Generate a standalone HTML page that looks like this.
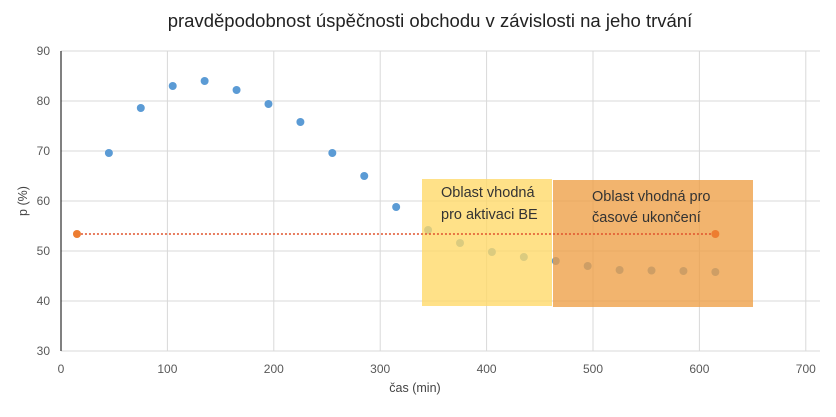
<!DOCTYPE html>
<html><head><meta charset="utf-8"><style>
body{margin:0;background:#fff;font-family:"Liberation Sans",sans-serif}
svg text{font-family:"Liberation Sans",sans-serif}
</style></head><body>
<svg width="836" height="412" id="c">
<text x="430" y="27" text-anchor="middle" font-size="18.5" fill="#222">pravděpodobnost úspěčnosti obchodu v závislosti na jeho trvání</text>
<g id="grid"></g><g id="pts"></g><g id="boxes"></g><g id="line"></g>
<text x="415" y="392" text-anchor="middle" font-size="12.5" fill="#444">čas (min)</text>
<text transform="translate(27,201) rotate(-90)" text-anchor="middle" font-size="12.5" fill="#444">p (%)</text>
</svg>
<script>
const xTicks=[0,100,200,300,400,500,600,700];
const yTicks=[30,40,50,60,70,80,90];
const times=[45,75,105,135,165,195,225,255,285,315,345,375,405,435,465,495,525,555,585,615];
const probs=[69.6,78.6,83,84,82.2,79.4,75.8,69.6,65,58.8,54.2,51.6,49.8,48.8,48,47,46.2,46.1,46,45.8];
const refX=[15,615];
const refY=[53.4,53.4];
const X=v=>61+v*1.064, Y=v=>351-(v-30)*5.0;
const NS="http://www.w3.org/2000/svg";
function mk(p,t,a){const e=document.createElementNS(NS,t);for(const k in a)e.setAttribute(k,a[k]);document.getElementById(p).appendChild(e);return e;}
yTicks.forEach(v=>{
 const l=mk('grid','line',{x1:61,x2:820,y1:Y(v),y2:Y(v),stroke:'#d9d9d9'});
 
 
 const t=mk('grid','text',{x:50,y:Y(v)+4,'text-anchor':'end','font-size':12,fill:'#595959'});t.textContent=v;
 
 
});
xTicks.forEach(v=>{
 if(v>0){const l=mk('grid','line',{x1:X(v),x2:X(v),y1:Y(90),y2:Y(30),stroke:'#d9d9d9'});
 
 }
 const t=mk('grid','text',{x:X(v),y:373,'text-anchor':'middle','font-size':12,fill:'#595959'});t.textContent=v;
 
 
});
const ax=mk('grid','line',{x1:61,x2:61,y1:Y(90),y2:Y(30),stroke:'#000'});


times.forEach((t,i)=>{
 const c=mk('pts','circle',{cx:X(t),cy:Y(probs[i]),r:4,fill:'#5b9bd5'});
 
 
});
const b1=mk('boxes','rect',{x:422,y:179,width:130,height:127,fill:'#ffd966','fill-opacity':0.78});


const b2=mk('boxes','rect',{x:553,y:180,width:200,height:127,fill:'#ee9f45','fill-opacity':0.78});


[[441,197,'Oblast vhodná'],[441,219,'pro aktivaci BE'],[592,201,'Oblast vhodná pro'],[592,222,'časové ukončení']].forEach(a=>{
 const t=mk('boxes','text',{x:a[0],y:a[1],'font-size':14.5,fill:'#333'});t.textContent=a[2];
 
 
});
const ln=mk('line','line',{x1:X(refX[0]),x2:X(refX[1]),y1:Y(refY[0]),y2:Y(refY[1]),stroke:'#e0522c','stroke-width':1.6,'stroke-dasharray':'2 2'});


refX.forEach((x,i)=>{
 const c=mk('line','circle',{cx:X(x),cy:Y(refY[i]),r:4,fill:'#ed7d31'});
 
 
});
</script>
</body></html>
